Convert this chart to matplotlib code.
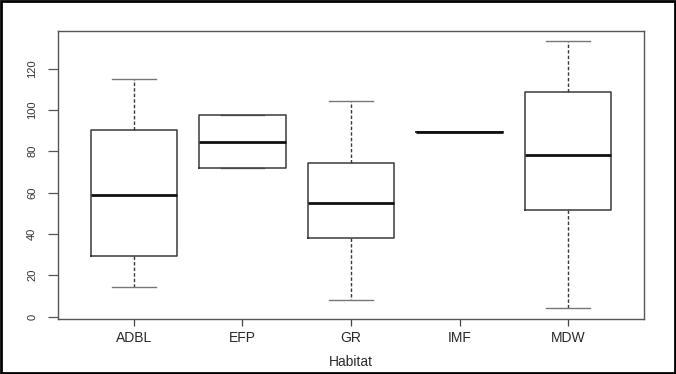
import matplotlib
matplotlib.use("Agg")
import matplotlib.pyplot as plt
from matplotlib.patches import Rectangle

# values
habitats = ["ADBL", "EFP", "GR", "IMF", "MDW"]
whisker_low = [14.2, 72.1, 8.2, 89.5, 4.2]
q1 = [29.5, 72.1, 38.2, 89.5, 51.7]
medians = [59.0, 84.5, 55.0, 89.5, 78.3]
q3 = [90.3, 97.3, 74.2, 89.5, 108.7]
whisker_high = [115.0, 97.3, 104.3, 89.5, 133.2]
y_ticks = [0, 20, 40, 60, 80, 100, 120]

plt.rcParams['font.family'] = ['Liberation Sans', 'DejaVu Sans']

fig = plt.figure(figsize=(6.76, 3.74), dpi=100)
ax = fig.add_axes([58 / 676, 55 / 374, 586 / 676, 288 / 374])

stats = []
for i, name in enumerate(habitats):
    stats.append(dict(label=name, whislo=whisker_low[i], q1=q1[i], med=medians[i],
                      q3=q3[i], whishi=whisker_high[i], fliers=[]))

line_col = "#3a3a3a"
ax.bxp(stats, positions=range(1, len(habitats) + 1), widths=0.8,
       capwidths=0.4, showfliers=False, patch_artist=False,
       boxprops=dict(color=line_col, linewidth=1.1, zorder=3),
       medianprops=dict(color="#111111", linewidth=2.0, solid_capstyle="butt", zorder=4),
       whiskerprops=dict(color=line_col, linewidth=1.0, linestyle=(0, (2.5, 1.5))),
       capprops=dict(color="#777777", linewidth=1.0, zorder=2))

ax.set_xlim(0.3, 5.7)
ax.set_ylim(-1.2, 138.2)
ax.set_yticks(y_ticks)
ax.set_yticklabels([str(v) for v in y_ticks], rotation=90, va="center")
ax.set_xticks(range(1, len(habitats) + 1))
ax.set_xticklabels(habitats)

for s in ax.spines.values():
    s.set_color("#555555")
    s.set_linewidth(1.0)

ax.tick_params(axis="y", length=7, width=0.9, color="#555555", labelsize=8,
               labelcolor="#333333", pad=8)
ax.tick_params(axis="x", length=5, width=0.9, color="#444444", labelsize=10,
               labelcolor="#2a2a2a", pad=4)
ax.set_xlabel("Habitat", fontsize=10, color="#2a2a2a", labelpad=7)

# black frame around the whole image
fig.patches.append(Rectangle((0.0015, 0.003), 0.997, 0.994, transform=fig.transFigure,
                             fill=False, edgecolor="black", linewidth=2.0))

fig.savefig("out.png", dpi=100)
